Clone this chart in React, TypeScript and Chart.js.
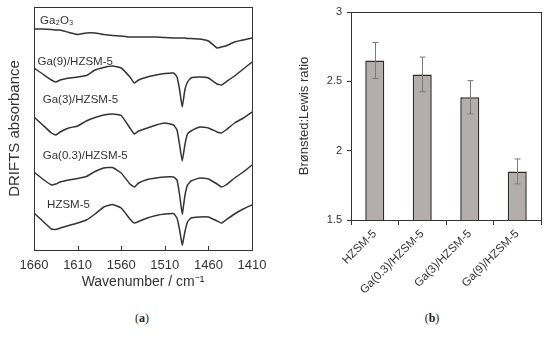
import React, { useEffect, useRef } from "react";
import { Chart, registerables } from "chart.js";

Chart.register(...registerables);

// ---------- Panel (a): DRIFTS spectra ----------
const wavenumbers = [1660, 1650, 1640, 1635, 1630, 1620, 1610, 1600, 1590, 1580, 1570, 1560, 1550, 1545, 1540, 1530, 1520, 1510, 1500, 1496, 1493, 1490, 1487, 1484, 1480, 1470, 1460, 1450, 1445, 1440, 1430, 1420, 1410];
const ga2o3 = [2.21, 2.21, 2.205, 2.2, 2.2, 2.175, 2.155, 2.17, 2.17, 2.155, 2.145, 2.14, 2.13, 2.13, 2.13, 2.13, 2.13, 2.125, 2.12, 2.12, 2.12, 2.12, 2.12, 2.115, 2.115, 2.11, 2.09, 2.02, 2.03, 2.04, 2.08, 2.1, 2.12];
const ga9 = [1.82, 1.76, 1.7, 1.68, 1.7, 1.72, 1.73, 1.745, 1.8, 1.825, 1.84, 1.82, 1.73, 1.67, 1.7, 1.73, 1.75, 1.765, 1.77, 1.73, 1.6, 1.43, 1.6, 1.68, 1.72, 1.73, 1.72, 1.66, 1.65, 1.68, 1.74, 1.81, 1.88];
const ga3 = [1.33, 1.25, 1.17, 1.15, 1.18, 1.22, 1.24, 1.29, 1.325, 1.35, 1.36, 1.345, 1.22, 1.16, 1.19, 1.22, 1.25, 1.27, 1.25, 1.2, 1.05, 0.89, 1.05, 1.16, 1.19, 1.23, 1.22, 1.18, 1.17, 1.2, 1.27, 1.32, 1.38];
const ga03 = [0.78, 0.71, 0.65, 0.66, 0.68, 0.7, 0.715, 0.735, 0.785, 0.82, 0.825, 0.77, 0.66, 0.63, 0.67, 0.705, 0.72, 0.73, 0.73, 0.7, 0.55, 0.36, 0.54, 0.65, 0.69, 0.72, 0.71, 0.66, 0.63, 0.65, 0.72, 0.78, 0.85];
const hzsm5 = [0.37, 0.29, 0.21, 0.205, 0.22, 0.245, 0.27, 0.3, 0.36, 0.43, 0.455, 0.42, 0.31, 0.27, 0.285, 0.32, 0.345, 0.36, 0.365, 0.32, 0.2, 0.05, 0.18, 0.28, 0.32, 0.33, 0.33, 0.29, 0.27, 0.3, 0.36, 0.41, 0.45];
const spectra = [ga2o3, ga9, ga3, ga03, hzsm5];
const spectrumNames = ["Ga\u2082O\u2083", "Ga(9)/HZSM-5", "Ga(3)/HZSM-5", "Ga(0.3)/HZSM-5", "HZSM-5"];
const labelWavenumbers = [1653, 1656, 1650, 1650, 1645];
const labelAbsorbance = [2.29, 1.88, 1.5, 0.94, 0.45];
const wavenumberTicks = [1660, 1610, 1560, 1510, 1460, 1410];

// ---------- Panel (b): Brønsted:Lewis ratio ----------
const catalysts = ["HZSM-5", "Ga(0.3)/HZSM-5", "Ga(3)/HZSM-5", "Ga(9)/HZSM-5"];
const ratios = [2.65, 2.55, 2.385, 1.85];
const ratioErrors = [0.13, 0.125, 0.12, 0.09];

const FAMILY = "'Liberation Sans', Arial, sans-serif";
const INK = "#333333";

const framePlugin = {
  id: "frame",
  afterDraw(chart: any) {
    const { ctx, chartArea } = chart;
    ctx.save();
    ctx.strokeStyle = INK;
    ctx.lineWidth = 1;
    ctx.strokeRect(
      Math.round(chartArea.left) + 0.5,
      Math.round(chartArea.top) + 0.5,
      Math.round(chartArea.right - chartArea.left),
      Math.round(chartArea.bottom - chartArea.top)
    );
    ctx.restore();
  },
};

const spectraPlugin = {
  id: "spectraDecor",
  afterDatasetsDraw(chart: any) {
    const { ctx, chartArea, scales } = chart;
    ctx.save();
    ctx.strokeStyle = INK;
    ctx.lineWidth = 1;
    wavenumberTicks.forEach((v) => {
      const x = Math.round(scales.x.getPixelForValue(v)) + 0.5;
      ctx.beginPath();
      ctx.moveTo(x, chartArea.bottom);
      ctx.lineTo(x, chartArea.bottom - 4);
      ctx.stroke();
    });
    ctx.fillStyle = INK;
    ctx.font = `11.5px ${FAMILY}`;
    ctx.textAlign = "left";
    ctx.textBaseline = "middle";
    spectrumNames.forEach((name, i) => {
      ctx.fillText(
        name,
        scales.x.getPixelForValue(labelWavenumbers[i]),
        scales.y.getPixelForValue(labelAbsorbance[i])
      );
    });
    ctx.restore();
  },
};

const errorBarPlugin = {
  id: "errorBars",
  afterDatasetsDraw(chart: any) {
    const { ctx, scales } = chart;
    const meta = chart.getDatasetMeta(0);
    ctx.save();
    ctx.strokeStyle = "#7a7a7a";
    ctx.lineWidth = 1;
    meta.data.forEach((bar: any, i: number) => {
      const x = Math.round(bar.x) + 0.5;
      const yt = scales.y.getPixelForValue(ratios[i] + ratioErrors[i]);
      const yb = scales.y.getPixelForValue(ratios[i] - ratioErrors[i]);
      ctx.beginPath();
      ctx.moveTo(x, yt);
      ctx.lineTo(x, yb);
      ctx.moveTo(x - 3, yt);
      ctx.lineTo(x + 3, yt);
      ctx.moveTo(x - 3, yb);
      ctx.lineTo(x + 3, yb);
      ctx.stroke();
    });
    ctx.restore();
  },
};

function SpectraChart() {
  const ref = useRef<HTMLCanvasElement>(null);
  useEffect(() => {
    const chart = new Chart(ref.current as HTMLCanvasElement, {
      type: "line",
      data: {
        datasets: spectra.map((s, k) => ({
          label: spectrumNames[k],
          data: wavenumbers.map((w, i) => ({ x: w, y: s[i] })),
          borderColor: "#333333",
          borderWidth: 1.5,
          pointRadius: 0,
          tension: 0.12,
          fill: false,
        })),
      },
      options: {
        animation: false,
        responsive: false,
        maintainAspectRatio: false,
        layout: { padding: { top: 7, right: 23, left: 0, bottom: 0 } },
        plugins: { legend: { display: false }, tooltip: { enabled: false } },
        scales: {
          x: {
            type: "linear",
            min: 1410,
            max: 1660,
            reverse: true,
            afterBuildTicks: (s: any) => {
              s.ticks = wavenumberTicks.map((v) => ({ value: v }));
            },
            grid: { display: false, drawTicks: false },
            border: { display: true, color: INK, width: 1 },
            ticks: {
              font: { size: 13, family: FAMILY },
              color: INK,
              padding: 8,
              maxRotation: 0,
              autoSkip: false,
              callback: (v: any) => String(v),
            },
            title: {
              display: true,
              text: "Wavenumber / cm\u207B\u00B9",
              font: { size: 14, family: FAMILY },
              color: INK,
              padding: { top: 0, bottom: 9 },
            },
            afterFit: (s: any) => {
              s.height = 50;
            },
          },
          y: {
            type: "linear",
            min: 0,
            max: 2.43,
            ticks: { display: false },
            grid: { display: false, drawTicks: false },
            border: { display: true, color: INK, width: 1 },
            title: {
              display: true,
              text: "DRIFTS absorbance",
              font: { size: 15, family: FAMILY },
              color: INK,
              padding: { top: 6, bottom: 0 },
            },
            afterFit: (s: any) => {
              s.width = 34;
            },
          },
        },
      },
      plugins: [spectraPlugin, framePlugin],
    } as any);
    return () => chart.destroy();
  }, []);
  return <canvas ref={ref} width={275} height={300} style={{ position: "absolute", left: 0, top: 0 }} />;
}

function RatioChart() {
  const ref = useRef<HTMLCanvasElement>(null);
  useEffect(() => {
    const chart = new Chart(ref.current as HTMLCanvasElement, {
      type: "bar",
      data: {
        labels: catalysts,
        datasets: [
          {
            label: "Brønsted:Lewis ratio",
            data: ratios,
            backgroundColor: "#b3adab",
            borderColor: "#2a2a2a",
            borderWidth: 1.5,
            barPercentage: 0.4,
            categoryPercentage: 1,
          },
        ],
      },
      options: {
        animation: false,
        responsive: false,
        maintainAspectRatio: false,
        layout: { padding: { top: 12, right: 9, left: 0, bottom: 0 } },
        plugins: { legend: { display: false }, tooltip: { enabled: false } },
        scales: {
          x: {
            grid: { display: true, drawOnChartArea: false, offset: true, tickLength: 5, color: INK },
            border: { display: true, color: INK, width: 1 },
            ticks: {
              font: { size: 11.5, family: FAMILY },
              color: INK,
              minRotation: 45,
              maxRotation: 45,
              padding: 2,
              autoSkip: false,
            },
            afterFit: (s: any) => {
              s.height = 80;
            },
          },
          y: {
            min: 1.5,
            max: 3,
            ticks: {
              stepSize: 0.5,
              font: { size: 11, family: FAMILY },
              color: INK,
              padding: 5,
              callback: (v: any) => String(v),
            },
            grid: { display: true, drawOnChartArea: false, tickLength: 4, color: INK },
            border: { display: true, color: INK, width: 1 },
            title: {
              display: true,
              text: "Brønsted:Lewis ratio",
              font: { size: 13, family: FAMILY },
              color: INK,
              padding: { top: 17, bottom: 0 },
            },
            afterFit: (s: any) => {
              s.width = 71;
            },
          },
        },
      },
      plugins: [errorBarPlugin, framePlugin],
    } as any);
    return () => chart.destroy();
  }, []);
  return <canvas ref={ref} width={270} height={300} style={{ position: "absolute", left: 280, top: 0 }} />;
}

export default function App() {
  const caption: React.CSSProperties = {
    position: "absolute",
    top: 310,
    width: 60,
    textAlign: "center",
    fontFamily: "'Liberation Serif', 'Times New Roman', serif",
    fontSize: 12,
    lineHeight: "16px",
    color: "#222",
  };
  return (
    <div style={{ position: "absolute", left: 0, top: 0, width: 550, height: 342, background: "#fff", overflow: "hidden" }}>
      <SpectraChart />
      <RatioChart />
      <div style={{ ...caption, left: 112 }}>
        (<b>a</b>)
      </div>
      <div style={{ ...caption, left: 402 }}>
        (<b>b</b>)
      </div>
    </div>
  );
}
